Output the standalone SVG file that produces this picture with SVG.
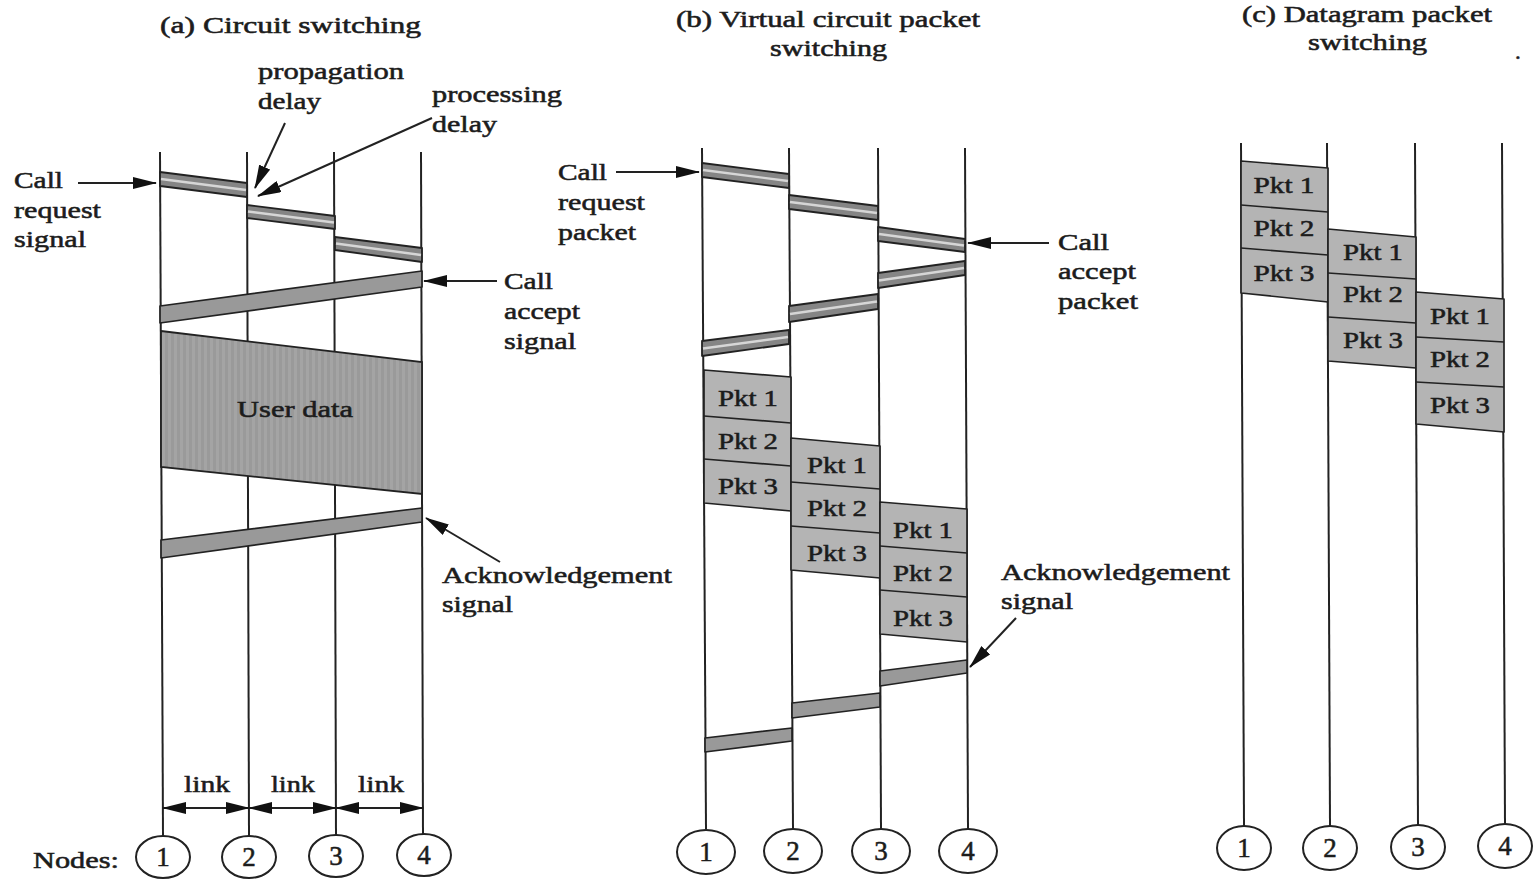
<svg xmlns="http://www.w3.org/2000/svg" width="1534" height="881" viewBox="0 0 1534 881">
  <style>
    text { font-family: "Liberation Serif", "Times New Roman", serif; fill: #1c1c1c; stroke: #1c1c1c; stroke-width: 0.55; }
    .lbl { font-size: 24px; }
    .ttl { font-size: 23px; }
    .pkt { font-size: 24px; text-anchor: middle; }
    .num { font-size: 27px; text-anchor: middle; }
    .axis { stroke: #222; stroke-width: 2; fill: none; }
    .bar { fill: #858585; stroke: #222; stroke-width: 1.8; stroke-linejoin: round; }
    .mid { stroke: #d6d6d6; stroke-width: 2.4; fill: none; }
    .solid { fill: #999; stroke: #222; stroke-width: 1.7; stroke-linejoin: round; }
    .pk { fill: #b4b4b4; stroke: #222; stroke-width: 1.7; stroke-linejoin: round; }
    .div { stroke: #222; stroke-width: 1.7; fill: none; }
    .node { fill: #fff; stroke: #222; stroke-width: 2; }
    .arr { stroke: #222; stroke-width: 2; fill: none; marker-end: url(#ah); }
    .link { stroke: #222; stroke-width: 2; fill: none; marker-start: url(#ah); marker-end: url(#ah); }
  </style>
  <defs>
    <marker id="ah" viewBox="0 0 24 12" markerWidth="24" markerHeight="12" refX="23" refY="6" orient="auto-start-reverse" markerUnits="userSpaceOnUse">
      <path d="M0,0 L24,6 L0,12 z" fill="#111"/>
    </marker>
    <pattern id="stripes" width="6" height="6" patternUnits="userSpaceOnUse">
      <rect width="6" height="6" fill="#9a9a9a"/>
      <rect width="3" height="6" fill="#a4a4a4"/>
    </pattern>
  </defs>
  <rect width="1534" height="881" fill="#fff"/>

  <!-- ===== (a) Circuit switching ===== -->
  <g id="panel-a">
    <text class="ttl" x="160" y="33" textLength="261" lengthAdjust="spacingAndGlyphs">(a)  Circuit switching</text>
    <line class="axis" x1="160" y1="152" x2="163" y2="836"/>
    <line class="axis" x1="247" y1="152" x2="249" y2="836"/>
    <line class="axis" x1="334" y1="152" x2="336" y2="835"/>
    <line class="axis" x1="421" y1="152" x2="423" y2="834"/>

    <g id="a-call-request">
      <polygon class="bar" points="160,172 247,183 247,197 160,186"/>
      <line class="mid" x1="161" y1="179" x2="246" y2="190"/>
      <polygon class="bar" points="247,205 335,216 335,229 247,218"/>
      <line class="mid" x1="248" y1="211.5" x2="334" y2="222.5"/>
      <polygon class="bar" points="335,237 422,248 422,262 335,250"/>
      <line class="mid" x1="336" y1="243.5" x2="421" y2="255"/>
    </g>
    <polygon id="a-call-accept" class="solid" points="422,271 422,287 160,323 160,306"/>
    <g id="a-user-data">
      <polygon points="161,331 422,362 422,494 161,467" fill="url(#stripes)" stroke="#222" stroke-width="1.8"/>
      <text class="lbl" x="237" y="417" textLength="116" lengthAdjust="spacingAndGlyphs">User data</text>
    </g>
    <polygon id="a-ack" class="solid" points="422,508 422,522 161,558 161,540"/>

    <g id="a-labels">
      <text class="lbl" x="258" y="79" textLength="146" lengthAdjust="spacingAndGlyphs">propagation</text>
      <text class="lbl" x="258" y="109" textLength="63" lengthAdjust="spacingAndGlyphs">delay</text>
      <text class="lbl" x="432" y="102" textLength="130" lengthAdjust="spacingAndGlyphs">processing</text>
      <text class="lbl" x="432" y="132" textLength="65" lengthAdjust="spacingAndGlyphs">delay</text>
      <text class="lbl" x="14" y="188" textLength="49" lengthAdjust="spacingAndGlyphs">Call</text>
      <text class="lbl" x="14" y="218" textLength="87" lengthAdjust="spacingAndGlyphs">request</text>
      <text class="lbl" x="14" y="247" textLength="72" lengthAdjust="spacingAndGlyphs">signal</text>
      <text class="lbl" x="504" y="289" textLength="49" lengthAdjust="spacingAndGlyphs">Call</text>
      <text class="lbl" x="504" y="319" textLength="76" lengthAdjust="spacingAndGlyphs">accept</text>
      <text class="lbl" x="504" y="349" textLength="72" lengthAdjust="spacingAndGlyphs">signal</text>
      <text class="lbl" x="442" y="583" textLength="230" lengthAdjust="spacingAndGlyphs">Acknowledgement</text>
      <text class="lbl" x="442" y="612" textLength="71" lengthAdjust="spacingAndGlyphs">signal</text>
      <text class="lbl" x="184" y="792" textLength="46" lengthAdjust="spacingAndGlyphs">link</text>
      <text class="lbl" x="271" y="792" textLength="44" lengthAdjust="spacingAndGlyphs">link</text>
      <text class="lbl" x="358" y="792" textLength="46" lengthAdjust="spacingAndGlyphs">link</text>
      <text class="lbl" x="33" y="868" textLength="86" lengthAdjust="spacingAndGlyphs">Nodes:</text>
    </g>

    <g id="a-node-1"><ellipse class="node" cx="163" cy="857" rx="27" ry="21"/><text class="num" x="163" y="866">1</text></g>
    <g id="a-node-2"><ellipse class="node" cx="249" cy="857" rx="27" ry="21"/><text class="num" x="249" y="866">2</text></g>
    <g id="a-node-3"><ellipse class="node" cx="336" cy="856" rx="27" ry="21"/><text class="num" x="336" y="865">3</text></g>
    <g id="a-node-4"><ellipse class="node" cx="424" cy="855" rx="27" ry="21"/><text class="num" x="424" y="864">4</text></g>
  </g>

  <!-- ===== (b) Virtual circuit packet switching ===== -->
  <g id="panel-b">
    <text class="ttl" x="676" y="27" textLength="304" lengthAdjust="spacingAndGlyphs">(b) Virtual circuit packet</text>
    <text class="ttl" x="770" y="56" textLength="117" lengthAdjust="spacingAndGlyphs">switching</text>
    <line class="axis" x1="702" y1="148" x2="706" y2="829"/>
    <line class="axis" x1="789" y1="148" x2="793" y2="829"/>
    <line class="axis" x1="878" y1="148" x2="881" y2="829"/>
    <line class="axis" x1="965" y1="148" x2="968" y2="829"/>

    <g id="b-call-request">
      <polygon class="bar" points="702,163 789,174 789,188 702,177"/>
      <line class="mid" x1="703" y1="170" x2="788" y2="181"/>
      <polygon class="bar" points="789,195 878,206 878,220 789,209"/>
      <line class="mid" x1="790" y1="202" x2="877" y2="213"/>
      <polygon class="bar" points="878,227 965,239 965,252 878,241"/>
      <line class="mid" x1="879" y1="234" x2="964" y2="245.5"/>
    </g>
    <g id="b-call-accept">
      <polygon class="bar" points="965,261 965,275 878,288 878,273"/>
      <line class="mid" x1="964" y1="268" x2="879" y2="280.5"/>
      <polygon class="bar" points="878,294 878,309 789,322 789,306"/>
      <line class="mid" x1="877" y1="301.5" x2="790" y2="314"/>
      <polygon class="bar" points="789,330 789,344 702,356 702,341"/>
      <line class="mid" x1="788" y1="337" x2="703" y2="348.5"/>
    </g>

    <g id="b-packets-1">
      <polygon class="pk" points="704,370 791,377 791,511 704,503"/>
      <line class="div" x1="704" y1="416" x2="791" y2="423"/>
      <line class="div" x1="704" y1="459" x2="791" y2="466"/>
      <text class="pkt" x="748" y="406" textLength="60" lengthAdjust="spacingAndGlyphs">Pkt 1</text>
      <text class="pkt" x="748" y="449" textLength="60" lengthAdjust="spacingAndGlyphs">Pkt 2</text>
      <text class="pkt" x="748" y="494" textLength="60" lengthAdjust="spacingAndGlyphs">Pkt 3</text>
    </g>
    <g id="b-packets-2">
      <polygon class="pk" points="791,438 880,446 880,578 791,570"/>
      <line class="div" x1="791" y1="482" x2="880" y2="489"/>
      <line class="div" x1="791" y1="526" x2="880" y2="533"/>
      <text class="pkt" x="837" y="473" textLength="60" lengthAdjust="spacingAndGlyphs">Pkt 1</text>
      <text class="pkt" x="837" y="516" textLength="60" lengthAdjust="spacingAndGlyphs">Pkt 2</text>
      <text class="pkt" x="837" y="561" textLength="60" lengthAdjust="spacingAndGlyphs">Pkt 3</text>
    </g>
    <g id="b-packets-3">
      <polygon class="pk" points="880,502 967,509 967,642 880,634"/>
      <line class="div" x1="880" y1="546" x2="967" y2="553"/>
      <line class="div" x1="880" y1="590" x2="967" y2="597"/>
      <text class="pkt" x="923" y="538" textLength="60" lengthAdjust="spacingAndGlyphs">Pkt 1</text>
      <text class="pkt" x="923" y="581" textLength="60" lengthAdjust="spacingAndGlyphs">Pkt 2</text>
      <text class="pkt" x="923" y="626" textLength="60" lengthAdjust="spacingAndGlyphs">Pkt 3</text>
    </g>

    <g id="b-ack">
      <polygon class="solid" points="967,660 967,673 880,686 880,671"/>
      <polygon class="solid" points="880,693 880,707 792,718 792,703"/>
      <polygon class="solid" points="792,728 792,741 705,752 705,738"/>
    </g>

    <g id="b-labels">
      <text class="lbl" x="558" y="180" textLength="49" lengthAdjust="spacingAndGlyphs">Call</text>
      <text class="lbl" x="558" y="210" textLength="87" lengthAdjust="spacingAndGlyphs">request</text>
      <text class="lbl" x="558" y="240" textLength="78" lengthAdjust="spacingAndGlyphs">packet</text>
      <text class="lbl" x="1058" y="250" textLength="51" lengthAdjust="spacingAndGlyphs">Call</text>
      <text class="lbl" x="1058" y="279" textLength="78" lengthAdjust="spacingAndGlyphs">accept</text>
      <text class="lbl" x="1058" y="309" textLength="80" lengthAdjust="spacingAndGlyphs">packet</text>
      <text class="lbl" x="1001" y="580" textLength="229" lengthAdjust="spacingAndGlyphs">Acknowledgement</text>
      <text class="lbl" x="1001" y="609" textLength="72" lengthAdjust="spacingAndGlyphs">signal</text>
    </g>

    <g id="b-node-1"><ellipse class="node" cx="706" cy="852" rx="29" ry="22"/><text class="num" x="706" y="861">1</text></g>
    <g id="b-node-2"><ellipse class="node" cx="793" cy="851" rx="29" ry="22"/><text class="num" x="793" y="860">2</text></g>
    <g id="b-node-3"><ellipse class="node" cx="881" cy="851" rx="29" ry="22"/><text class="num" x="881" y="860">3</text></g>
    <g id="b-node-4"><ellipse class="node" cx="968" cy="851" rx="29" ry="22"/><text class="num" x="968" y="860">4</text></g>
  </g>

  <!-- ===== (c) Datagram packet switching ===== -->
  <g id="panel-c">
    <text class="ttl" x="1242" y="22" textLength="250" lengthAdjust="spacingAndGlyphs">(c) Datagram packet</text>
    <text class="ttl" x="1308" y="50" textLength="119" lengthAdjust="spacingAndGlyphs">switching</text>
    <text class="ttl" x="1515" y="59">.</text>
    <line class="axis" x1="1241" y1="143" x2="1244" y2="826"/>
    <line class="axis" x1="1327" y1="143" x2="1330" y2="826"/>
    <line class="axis" x1="1415" y1="143" x2="1418" y2="825"/>
    <line class="axis" x1="1502" y1="143" x2="1505" y2="824"/>

    <g id="c-packets-1">
      <polygon class="pk" points="1241,161 1328,168 1328,302 1241,293"/>
      <line class="div" x1="1241" y1="205" x2="1328" y2="212"/>
      <line class="div" x1="1241" y1="248" x2="1328" y2="255"/>
      <text class="pkt" x="1284" y="193" textLength="61" lengthAdjust="spacingAndGlyphs">Pkt 1</text>
      <text class="pkt" x="1284" y="236" textLength="61" lengthAdjust="spacingAndGlyphs">Pkt 2</text>
      <text class="pkt" x="1284" y="281" textLength="61" lengthAdjust="spacingAndGlyphs">Pkt 3</text>
    </g>
    <g id="c-packets-2">
      <polygon class="pk" points="1328,229 1416,237 1416,368 1328,361"/>
      <line class="div" x1="1328" y1="273" x2="1416" y2="279"/>
      <line class="div" x1="1328" y1="317" x2="1416" y2="323"/>
      <text class="pkt" x="1373" y="260" textLength="60" lengthAdjust="spacingAndGlyphs">Pkt 1</text>
      <text class="pkt" x="1373" y="302" textLength="60" lengthAdjust="spacingAndGlyphs">Pkt 2</text>
      <text class="pkt" x="1373" y="348" textLength="60" lengthAdjust="spacingAndGlyphs">Pkt 3</text>
    </g>
    <g id="c-packets-3">
      <polygon class="pk" points="1416,292 1504,299 1504,432 1416,424"/>
      <line class="div" x1="1416" y1="337" x2="1504" y2="342"/>
      <line class="div" x1="1416" y1="382" x2="1504" y2="387"/>
      <text class="pkt" x="1460" y="324" textLength="60" lengthAdjust="spacingAndGlyphs">Pkt 1</text>
      <text class="pkt" x="1460" y="367" textLength="60" lengthAdjust="spacingAndGlyphs">Pkt 2</text>
      <text class="pkt" x="1460" y="413" textLength="60" lengthAdjust="spacingAndGlyphs">Pkt 3</text>
    </g>

    <g id="c-node-1"><ellipse class="node" cx="1244" cy="848" rx="27" ry="22"/><text class="num" x="1244" y="857">1</text></g>
    <g id="c-node-2"><ellipse class="node" cx="1330" cy="848" rx="27" ry="22"/><text class="num" x="1330" y="857">2</text></g>
    <g id="c-node-3"><ellipse class="node" cx="1418" cy="847" rx="27" ry="22"/><text class="num" x="1418" y="856">3</text></g>
    <g id="c-node-4"><ellipse class="node" cx="1505" cy="846" rx="27" ry="22"/><text class="num" x="1505" y="855">4</text></g>
  </g>

  <!-- pointer arrows and link spans -->
  <g id="connectors">
    <line class="arr" x1="78" y1="183" x2="156" y2="183"/>
    <line class="arr" x1="285" y1="123" x2="255" y2="188"/>
    <line class="arr" x1="432" y1="118" x2="258" y2="196"/>
    <line class="arr" x1="497" y1="281" x2="424" y2="281"/>
    <line class="arr" x1="500" y1="562" x2="426" y2="518"/>
    <line class="link" x1="163" y1="808" x2="249" y2="808"/>
    <line class="link" x1="249" y1="808" x2="336" y2="808"/>
    <line class="link" x1="336" y1="808" x2="423" y2="808"/>
    <line class="arr" x1="616" y1="172" x2="699" y2="172"/>
    <line class="arr" x1="1049" y1="243" x2="968" y2="243"/>
    <line class="arr" x1="1016" y1="618" x2="970" y2="667"/>
  </g>
</svg>
